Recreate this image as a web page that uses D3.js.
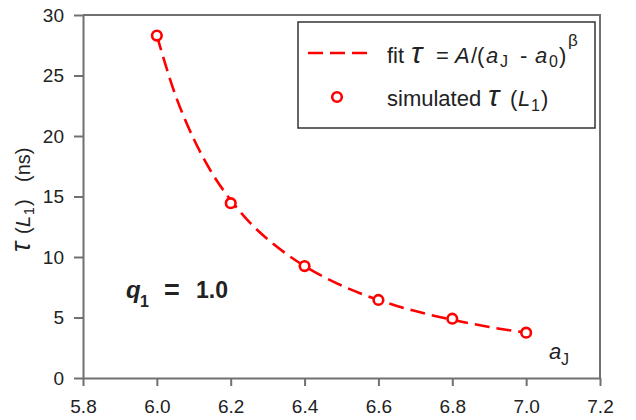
<!DOCTYPE html>
<html><head><meta charset="utf-8">
<script src="https://cdn.jsdelivr.net/npm/d3@7"></script>
<style>
html,body{margin:0;padding:0;background:#fff;}
svg{display:block;}
text{font-family:"Liberation Sans",Arial,Helvetica,sans-serif;fill:#222;}
</style></head>
<body>
<svg id="chart" width="636" height="420"></svg>
<script>
// Data
const simA = [6.0, 6.2, 6.4, 6.6, 6.8, 7.0];
const simTau = [28.3, 14.45, 9.25, 6.45, 4.9, 3.75];
const fitA = [6.0, 6.05, 6.1, 6.15, 6.2, 6.25, 6.3, 6.35, 6.4, 6.45, 6.5, 6.55, 6.6, 6.65, 6.7, 6.75, 6.8, 6.85, 6.9, 6.95, 7.0];
const fitTau = [28.3, 23.4, 19.75, 16.9, 14.7, 12.9, 11.47, 10.27, 9.25, 8.38, 7.64, 7.01, 6.45, 5.96, 5.53, 5.15, 4.81, 4.5, 4.22, 3.97, 3.75];
const xTicks = [5.8, 6.0, 6.2, 6.4, 6.6, 6.8, 7.0, 7.2];
const yTicks = [0, 5, 10, 15, 20, 25, 30];

const svg = d3.select("#chart");
const L = 83, R = 600, T = 15, B = 378;
const x = d3.scaleLinear().domain([5.8, 7.2]).range([L, R]);
const y = d3.scaleLinear().domain([0, 30]).range([B, T]);
const axisCol = "#707070";
const red = "#ff0000";
const serif = "'DejaVu Serif','Liberation Serif',serif";

// frame (top and right)
svg.append("path")
  .attr("d", `M${L},${T}H${R}V${B}`)
  .attr("fill", "none").attr("stroke", axisCol).attr("stroke-width", 2);

// axes
const gx = svg.append("g").attr("transform", `translate(0,${B})`)
  .call(d3.axisBottom(x).tickValues(xTicks).tickFormat(d3.format(".1f")).tickSize(8).tickSizeOuter(0).tickPadding(14));
const gy = svg.append("g").attr("transform", `translate(${L},0)`)
  .call(d3.axisLeft(y).tickValues(yTicks).tickFormat(d3.format("d")).tickSize(9).tickSizeOuter(0).tickPadding(10));
[gx, gy].forEach(g => {
  g.select(".domain").attr("stroke", axisCol).attr("stroke-width", 2);
  g.selectAll(".tick line").attr("stroke", axisCol).attr("stroke-width", 2);
  g.selectAll(".tick text").attr("font-size", 19).attr("fill", "#222")
    .attr("font-family", "'Liberation Sans', Arial, sans-serif");
});

// fit curve
const line = d3.line().x((d, i) => x(fitA[i])).y((d, i) => y(fitTau[i])).curve(d3.curveMonotoneX);
svg.append("path").datum(fitTau)
  .attr("d", line)
  .attr("fill", "none").attr("stroke", red).attr("stroke-width", 2.6)
  .attr("stroke-dasharray", "15,7");

// simulated points
svg.selectAll("circle.pt").data(simTau).join("circle")
  .attr("class", "pt")
  .attr("cx", (d, i) => x(simA[i])).attr("cy", d => y(d))
  .attr("r", 4.8).attr("fill", "#fff").attr("stroke", red).attr("stroke-width", 2.6);

// helper for text pieces placed at explicit positions
function piece(parent, px, py, str, o = {}) {
  const t = parent.append("text").attr("x", px).attr("y", py)
    .attr("font-size", o.size || 22).text(str);
  if (o.italic) t.attr("font-style", "italic");
  if (o.serif) t.attr("font-family", serif);
  if (o.bold) t.attr("font-weight", "bold");
  if (o.anchor) t.attr("text-anchor", o.anchor);
  return t;
}

// legend
const lg = svg.append("g");
lg.append("rect").attr("x", 298).attr("y", 22).attr("width", 297).attr("height", 106)
  .attr("fill", "#fff").attr("stroke", "#333").attr("stroke-width", 1.5);
lg.append("line").attr("x1", 308).attr("x2", 367).attr("y1", 53).attr("y2", 53)
  .attr("stroke", red).attr("stroke-width", 2.6).attr("stroke-dasharray", "15,7");
lg.append("circle").attr("cx", 337).attr("cy", 97).attr("r", 4.8)
  .attr("fill", "#fff").attr("stroke", red).attr("stroke-width", 2.6);

// line 1: fit τ = A/(aJ - a0)β
piece(lg, 387, 63, "fit");
piece(lg, 411, 63, "τ", {italic: true, serif: true, size: 30});
piece(lg, 436, 63, "=");
piece(lg, 455, 63, "A", {italic: true});
piece(lg, 471, 63, "/(");
piece(lg, 486, 63, "a", {italic: true});
piece(lg, 500, 67, "J", {size: 16});
piece(lg, 520, 63, "-");
piece(lg, 535, 63, "a", {italic: true});
piece(lg, 549, 67, "0", {size: 16});
piece(lg, 559, 63, ")");
piece(lg, 568, 46, "β", {serif: true, size: 17});

// line 2: simulated τ(L1)
piece(lg, 387, 106, "simulated");
piece(lg, 488, 106, "τ", {italic: true, serif: true, size: 30});
piece(lg, 510, 106, "(");
piece(lg, 518, 106, "L", {italic: true});
piece(lg, 531, 111, "1", {size: 16});
piece(lg, 541, 106, ")");

// y axis title (rotated)
const yt = svg.append("g").attr("transform", "translate(30,252) rotate(-90)");
piece(yt, 0, 0, "τ", {italic: true, serif: true, size: 27});
piece(yt, 18, 0, "(", {size: 20});
piece(yt, 25, 0, "L", {italic: true, size: 20});
piece(yt, 37, 4, "1", {size: 14});
piece(yt, 46, 0, ")", {size: 20});
piece(yt, 70, 0, "(ns)", {size: 20});

// x axis title
piece(svg, 549, 359, "a", {italic: true});
piece(svg, 561, 365, "J", {size: 16});

// annotation q1 = 1.0
piece(svg, 126, 298, "q", {italic: true, bold: true, size: 24});
piece(svg, 140, 307, "1", {bold: true, size: 16});
piece(svg, 164, 299, "=", {bold: true, size: 27});
piece(svg, 196, 298, "1.0", {bold: true, size: 23});
</script>
</body></html>
